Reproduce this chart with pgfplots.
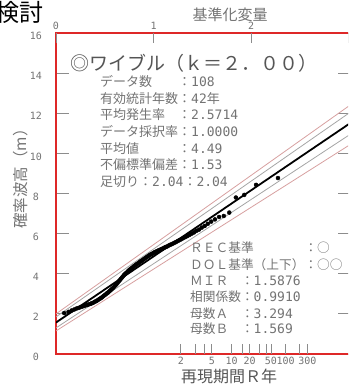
\documentclass[border=0pt]{standalone}
\usepackage{pgfplots}
\pgfplotsset{compat=1.18}
\usepackage{fontspec}
\setmainfont{DejaVu Sans}
\newfontfamily\cjk{Noto Sans CJK JP}
\newfontfamily\mono{DejaVu Sans Mono}
\definecolor{frame}{RGB}{222,40,40}
\definecolor{pinkl}{RGB}{215,160,160}
\definecolor{grayl}{RGB}{165,165,165}
\definecolor{tickc}{RGB}{140,140,140}
\definecolor{txt}{RGB}{115,115,115}
\definecolor{txtd}{RGB}{85,85,85}

\pgfplotstableread{
y H
2.2763 8.77
2.0518 8.43
1.9304 7.93
1.8445 7.80
1.7769 7.05
1.7208 6.88
1.6724 6.83
1.6298 6.71
1.5914 6.60
1.5565 6.49
1.5244 6.38
1.4946 6.30
1.4667 6.20
1.4404 6.14
1.4156 6.06
1.3920 6.00
1.3695 5.94
1.3480 5.88
1.3274 5.83
1.3075 5.78
1.2883 5.73
1.2698 5.68
1.2519 5.64
1.2345 5.59
1.2175 5.55
1.2011 5.51
1.1850 5.47
1.1693 5.44
1.1540 5.40
1.1390 5.36
1.1244 5.33
1.1100 5.30
1.0959 5.26
1.0820 5.23
1.0684 5.20
1.0549 5.17
1.0417 5.14
1.0287 5.11
1.0159 5.08
1.0032 5.05
0.9907 5.01
0.9783 4.98
0.9661 4.95
0.9540 4.91
0.9421 4.87
0.9303 4.83
0.9185 4.79
0.9069 4.75
0.8954 4.71
0.8839 4.67
0.8726 4.63
0.8613 4.60
0.8501 4.55
0.8389 4.51
0.8278 4.48
0.8168 4.44
0.8059 4.40
0.7949 4.36
0.7840 4.31
0.7732 4.27
0.7623 4.23
0.7515 4.19
0.7407 4.14
0.7299 4.08
0.7192 4.04
0.7085 3.99
0.6976 3.94
0.6869 3.87
0.6761 3.81
0.6653 3.75
0.6545 3.68
0.6437 3.62
0.6328 3.56
0.6219 3.49
0.6110 3.43
0.5999 3.37
0.5889 3.31
0.5778 3.26
0.5666 3.21
0.5553 3.16
0.5440 3.11
0.5325 3.06
0.5210 3.02
0.5093 2.97
0.4975 2.93
0.4855 2.88
0.4734 2.83
0.4611 2.79
0.4487 2.75
0.4359 2.71
0.4230 2.67
0.4099 2.63
0.3964 2.60
0.3826 2.56
0.3685 2.53
0.3540 2.50
0.3390 2.48
0.3234 2.45
0.3072 2.43
0.2903 2.40
0.2726 2.37
0.2538 2.34
0.2337 2.30
0.2119 2.27
0.1879 2.22
0.1606 2.17
0.1281 2.10
0.0837 2.04
}\datatable

\begin{document}
\begin{tikzpicture}[x=1pt,y=1pt]
\useasboundingbox (0,0) rectangle (348,385);
\clip (0,0) rectangle (348,385);

% main axis: data, lines, y ticks, red frame
\begin{axis}[
  at={(56pt,31pt)}, anchor=south west, scale only axis,
  width=294.5pt, height=321pt,
  xmin=0, xmax=3.02, ymin=0, ymax=16,
  axis line style={draw=frame, line width=2.4pt},
  xtick=\empty,
  ytick={0,2,...,16},
  yticklabel pos=left,
  tick align=inside,
  major tick length=13pt,
  ytick style={draw=tickc, line width=0.8pt},
  yticklabel style={font=\mono\fontsize{10}{12}\selectfont, text=txt, anchor=center, xshift=-20pt, yshift=-3pt},
  /pgf/number format/assume math mode=true,
]
\addplot[pinkl, line width=0.8pt] coordinates {(0,2.0) (3.02,12.42)};
\addplot[pinkl, line width=0.8pt] coordinates {(0,1.15) (3.02,10.45)};
\addplot[grayl, line width=0.8pt] coordinates {(0,1.85) (3.02,12.06)};
\addplot[grayl, line width=0.8pt] coordinates {(0,1.3) (3.02,10.96)};
\addplot[black, line width=1.8pt] coordinates {(0,1.569) (3.02,11.517)};
\addplot[only marks, mark=*, mark size=2pt, black] table[x=y, y=H] {\datatable};
\end{axis}

% top axis: standardized variate
\begin{axis}[
  at={(56pt,31pt)}, anchor=south west, scale only axis,
  width=294.5pt, height=321pt,
  xmin=0, xmax=3.02, ymin=0, ymax=16,
  axis line style={draw=none},
  ytick=\empty,
  xtick={0,1,2,3},
  xticklabels={0,1,2,},
  xtick pos=right, xticklabel pos=right,
  tick align=inside,
  major tick length=10pt,
  xtick style={draw=tickc, line width=0.8pt},
  xticklabel style={font=\mono\fontsize{10}{12}\selectfont, text=txt},
]
\end{axis}

% bottom axis: return period
\begin{axis}[
  at={(56pt,31pt)}, anchor=south west, scale only axis,
  width=294.5pt, height=321pt,
  xmin=0, xmax=3.02, ymin=0, ymax=16,
  axis line style={draw=none},
  ytick=\empty,
  xtick={1.2797,1.4294,1.5267,1.5981,1.8020,1.9112,1.9850,2.0846,2.1525,2.2038,2.3558,2.4986,2.5784},
  xticklabels={2,,,5,10,,20,,,50,100,,300},
  xtick pos=left, xticklabel pos=left,
  tick align=inside,
  major tick length=10pt,
  xtick style={draw=tickc, line width=0.8pt},
  xticklabel style={font=\mono\fontsize{10}{12}\selectfont, text=txt},
]
\end{axis}

% texts
\node[anchor=north east, inner sep=0pt, font=\cjk\fontsize{24}{24}\selectfont] at (44,384) {検討};
\node[font=\cjk\fontsize{15}{15}\selectfont, text=txt] at (230,370) {基準化変量};
\node[font=\cjk\fontsize{16}{16}\selectfont, text=txtd] at (229,9) {再現期間Ｒ年};
\node[rotate=90, font=\cjk\fontsize{15.5}{15.5}\selectfont, text=txt] at (21,210) {確率波高（m）};

\node[anchor=west, inner sep=0pt, font=\cjk\fontsize{19}{19}\selectfont, text=txtd] at (70,322) {◎ワイブル（ｋ＝２．００）};

\begin{scope}[every node/.style={anchor=west, inner sep=0pt, text=txt}]
\node at (100,303)   {\cjk\fontsize{13}{13}\selectfont データ数　　：\mono\fontsize{13}{13}\selectfont 108};
\node at (100,286.7) {\cjk\fontsize{13}{13}\selectfont 有効統計年数：\mono\fontsize{13}{13}\selectfont 42\cjk 年};
\node at (100,270)   {\cjk\fontsize{13}{13}\selectfont 平均発生率　：\mono\fontsize{13}{13}\selectfont 2.5714};
\node at (100,253.3) {\cjk\fontsize{13}{13}\selectfont データ採択率：\mono\fontsize{13}{13}\selectfont 1.0000};
\node at (100,236.7) {\cjk\fontsize{13}{13}\selectfont 平均値　　　：\mono\fontsize{13}{13}\selectfont 4.49};
\node at (100,220)   {\cjk\fontsize{13}{13}\selectfont 不偏標準偏差：\mono\fontsize{13}{13}\selectfont 1.53};
\node at (100,203.3) {\cjk\fontsize{13}{13}\selectfont 足切り：\mono\fontsize{13}{13}\selectfont 2.04\cjk ：\mono 2.04};

\node at (190,137) {\cjk\fontsize{12.7}{12.7}\selectfont ＲＥＣ基準　　　　：○};
\node at (190,120) {\cjk\fontsize{12.7}{12.7}\selectfont ＤＯＬ基準（上下）：○○};
\node at (190,104) {\cjk\fontsize{12.7}{12.7}\selectfont ＭＩＲ　：\mono\fontsize{13}{13}\selectfont 1.5876};
\node at (190,88)  {\cjk\fontsize{12.7}{12.7}\selectfont 相関係数：\mono\fontsize{13}{13}\selectfont 0.9910};
\node at (190,71)  {\cjk\fontsize{12.7}{12.7}\selectfont 母数Ａ　：\mono\fontsize{13}{13}\selectfont 3.294};
\node at (190,56)  {\cjk\fontsize{12.7}{12.7}\selectfont 母数Ｂ　：\mono\fontsize{13}{13}\selectfont 1.569};
\end{scope}
\end{tikzpicture}
\end{document}
